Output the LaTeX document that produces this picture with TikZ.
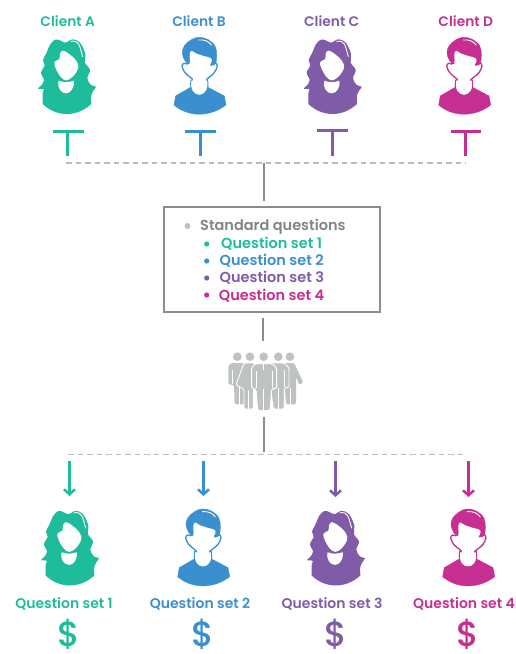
\documentclass[tikz,border=0pt]{standalone}
\usepackage{fontspec}
\setmainfont{Poppins}
\newfontfamily\lblfont{Poppins SemiBold}
\newfontfamily\dolfont{Poppins Medium}
\usetikzlibrary{arrows.meta}
\definecolor{cA}{HTML}{1FBC9C}
\definecolor{cB}{HTML}{3A8FCF}
\definecolor{cC}{HTML}{7F5BA8}
\definecolor{cD}{HTML}{C72E91}
\definecolor{gline}{HTML}{B9BCBC}
\definecolor{gbar}{HTML}{8A8D8D}
\definecolor{gtxt}{HTML}{7F8587}
\definecolor{gicon}{HTML}{BFC2C2}
\tikzset{
  woman/.pic={
    \begin{scope}[scale=1/3,shift={(-108,-24)}]
      \path[pic actions] (38,222) plot[smooth,tension=.6] coordinates {(38,222) (38,190) (41,178) (24,176) (34,166) (42,150) (33,128) (44,106) (39,90) (50,68) (60,44) (75,29) (90,31) (106,38) (128,28) (150,38) (166,72) (165,98) (180,120) (172,145) (183,165) (198,170) (190,182) (184,195) (184,222)} .. controls (140,262) and (80,262) .. (38,222) -- cycle;
      \fill[white] plot[smooth cycle,tension=.7] coordinates {(98,62) (115,70) (130,82) (145,105) (138,128) (118,148) (100,148) (82,125) (73,97) (88,88) (90,72)};
      \fill[white] (86,152) .. controls (100,158) and (115,158) .. (131,152) .. controls (135,175) and (120,190) .. (108,190) .. controls (95,190) and (80,175) .. (86,152) -- cycle;
      \draw[white,line width=.9] (122,34) .. controls (148,30) and (148,45) .. (158,80);
    \end{scope}},
  man/.pic={
    \begin{scope}[scale=1/3,shift={(-103,-22)}]
      \path[pic actions] (27,225) .. controls (70,262) and (135,262) .. (183,225) -- (178,198) -- (125,170) -- (80,170) -- (32,198) -- cycle;
      \path[pic actions,fill=white,line width=.9] (78,150) -- (128,150) .. controls (133,180) and (120,196) .. (103,196) .. controls (86,196) and (73,180) .. (78,150) -- cycle;
      \path[pic actions,fill=white,line width=1.3] plot[smooth cycle,tension=.6] coordinates {(78,60) (72,100) (58,100) (51,108) (60,128) (76,142) (92,154) (115,154) (132,142) (148,128) (157,108) (150,98) (138,105) (142,80)};
      \fill[white] (84,146) rectangle (122,162);
      \path[pic actions] plot[smooth cycle,tension=.6] coordinates {(52,70) (58,48) (78,30) (100,22) (128,28) (150,48) (155,75) (152,100) (142,105) (140,85) (120,78) (95,70) (76,60) (72,78) (70,100) (60,92)};
      \draw[white,line width=.9] (100,30) .. controls (120,28) and (132,35) .. (140,46);
    \end{scope}},
  tbar/.style={line width=3},
  busline/.style={gline,line width=1.2,dash pattern=on 5.5 off 4},
  trunk/.style={gbar,line width=2},
  arr/.style={line width=3,-{Straight Barb[length=5,width=11,line width=2.5]}},
  lbl/.style={font=\lblfont\fontsize{13.8}{15}\selectfont,inner sep=0},
  qlbl/.style={font=\lblfont\fontsize{14}{15}\selectfont,inner sep=0},
  boxt/.style={font=\lblfont\fontsize{14.5}{15}\selectfont,inner sep=0,anchor=west},
  dollar/.style={font=\dolfont\fontsize{20}{21}\selectfont,inner sep=0,scale=1.75,transform shape},
  frontp/.style={fill=gicon,draw=white,line width=.9,rounded corners=1.5},
  backp/.style={fill=gicon,draw=none,rounded corners=1.5},
  slit/.style={white,line width=.7},
}
\begin{document}
\begin{tikzpicture}[x=1pt,y=-1pt]
\useasboundingbox (0,0) rectangle (515,654);
% top labels
\node[lbl,text=cA] (la) at (67.7,21) {Client A};
\node[lbl,text=cB] (lb) at (199,21) {Client B};
\node[lbl,text=cC] (lc) at (331.7,21) {Client C};
\node[lbl,text=cD] (ld) at (465.7,21) {Client D};
% top icons
\pic[fill=cA,draw=none] at (66,38) {woman};
\pic[fill=cB,draw=cB] at (199.3,37.3) {man};
\pic[fill=cC,draw=none] at (331.7,38) {woman};
\pic[fill=cD,draw=cD] at (464,37.3) {man};
% T connectors
\coordinate (ta1) at (53,131.5); \coordinate (ta2) at (83.5,131.5); \coordinate (ta3) at (67.5,131.5); \coordinate (ta4) at (67.5,156);
\coordinate (tb1) at (185,131.5); \coordinate (tb2) at (215.5,131.5); \coordinate (tb3) at (200.5,131.5); \coordinate (tb4) at (200.5,156);
\coordinate (tc1) at (317,130.5); \coordinate (tc2) at (347.5,130.5); \coordinate (tc3) at (332.5,130.5); \coordinate (tc4) at (332.5,155.5);
\coordinate (td1) at (450.5,131.5); \coordinate (td2) at (481,131.5); \coordinate (td3) at (465.5,131.5); \coordinate (td4) at (465.5,156);
\draw[tbar,cA] (ta1)--(ta2) (ta3)--(ta4);
\draw[tbar,cB] (tb1)--(tb2) (tb3)--(tb4);
\draw[tbar,cC] (tc1)--(tc2) (tc3)--(tc4);
\draw[tbar,cD] (td1)--(td2) (td3)--(td4);
% buses
\coordinate (bus1l) at (66,163); \coordinate (bus1r) at (466,163); \coordinate (bus1m) at (264,163);
\coordinate (bus2l) at (68,454.5); \coordinate (bus2r) at (466,454.5); \coordinate (bus2m) at (264,452);
\draw[busline] (bus1l)--(bus1r);
\draw[busline] (bus2l)--(bus2r);
% box
\node[draw=gbar,line width=2,minimum width=216,minimum height=105,inner sep=0] (box) at (272,259.5) {};
\coordinate (t1b) at (264,200.5);
\draw[trunk] (bus1m)--(t1b);
\coordinate (t2a) at (263,318); \coordinate (t2b) at (263,341);
\draw[trunk] (t2a)--(t2b);
\coordinate (t3a) at (264,417);
\draw[trunk] (t3a)--(bus2m);
% box text
\fill[gicon] (187.5,226) circle[radius=3];
\fill[cA] (206.7,244) circle[radius=2.6];
\fill[cB] (206.7,261) circle[radius=2.6];
\fill[cC] (206.7,278) circle[radius=2.6];
\fill[cD] (206.7,295) circle[radius=2.6];
\node[boxt,text=gtxt] (s0) at (200,226.5) {Standard questions};
\node[boxt,text=cA] (s1) at (221,243.5) {Question set 1};
\node[boxt,text=cB] (s2) at (219.5,260.5) {Question set 2};
\node[boxt,text=cC] (s3) at (219.5,278) {Question set 3};
\node[boxt,text=cD] (s4) at (218.7,295.5) {Question set 4};
% group
\begin{scope}[shift={(220,345)},scale=1/3]
  \foreach \hx in {52,90,131,175,210} \fill[gicon] (\hx,35) circle[radius=13];
  \path[backp] (25,118) -- (25,62) -- (33,54) -- (75,54) -- (75,178) -- (44,178) -- (42,120) -- cycle;
  \path[backp] (190,54) -- (222,54) -- (250,112) -- (238,120) -- (228,95) -- (228,178) -- (198,178) -- cycle;
  \draw[slit] (38,75)--(38,118) (57,125)--(57,180) (212,130)--(212,180);
  \path[frontp] (72,54) -- (104,54) -- (108,130) -- (100,130) -- (100,192) -- (72,192) -- (72,132) -- (48,120) -- cycle;
  \path[frontp] (142,54) -- (193,54) -- (207,68) -- (207,128) -- (193,128) -- (193,192) -- (160,192) -- cycle;
  \draw[slit] (86,135)--(86,192) (175,130)--(175,192) (193,75)--(193,126);
  \path[frontp] (106,56) -- (156,56) -- (170,68) -- (170,130) -- (155,132) -- (150,197) -- (113,197) -- (108,132) -- (95,130) -- (95,68) -- cycle;
  \draw[slit] (131,132)--(131,197) (108,78)--(108,130) (156,78)--(156,130) (131,58)--(131,75);
\end{scope}
% arrows
\coordinate (aa1) at (69.5,461); \coordinate (aa2) at (69.5,496);
\coordinate (ab1) at (203.5,461); \coordinate (ab2) at (203.5,496);
\coordinate (ac1) at (335.5,461); \coordinate (ac2) at (335.5,497);
\coordinate (ad1) at (468.5,461); \coordinate (ad2) at (468.5,497);
\draw[arr,cA] (aa1)--(aa2);
\draw[arr,cB] (ab1)--(ab2);
\draw[arr,cC] (ac1)--(ac2);
\draw[arr,cD] (ad1)--(ad2);
% bottom icons
\pic[fill=cA,draw=none] at (69,509.5) {woman};
\pic[fill=cB,draw=cB] at (203,509) {man};
\pic[fill=cC,draw=none] at (335,509.5) {woman};
\pic[fill=cD,draw=cD] at (468,509) {man};
% bottom labels
\node[qlbl,text=cA] (qa) at (64,603.5) {Question set 1};
\node[qlbl,text=cB] (qb) at (200,603.5) {Question set 2};
\node[qlbl,text=cC] (qc) at (332,603.5) {Question set 3};
\node[qlbl,text=cD] (qd) at (464,603.5) {Question set 4};
\node[dollar,text=cA] (da) at (69,634.5) {\$};
\node[dollar,text=cB] (db) at (203,634.5) {\$};
\node[dollar,text=cC] (dc) at (335.5,634.5) {\$};
\node[dollar,text=cD] (dd) at (468,634.5) {\$};
\end{tikzpicture}
\end{document}
